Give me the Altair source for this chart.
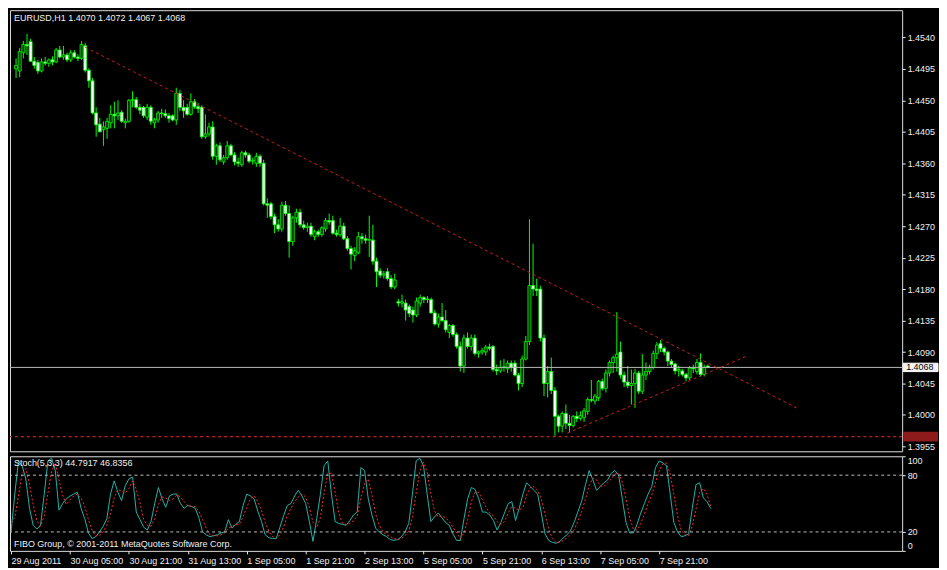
import altair as alt
import pandas as pd

# ---------------- data (EURUSD H1 candles, bar index 0 = 29 Aug 13:00) ----------------
opens = [1.4495,1.4492,1.4518,1.4530,1.4534,1.4506,1.4504,1.4492,1.4505,1.4503,
         1.4508,1.4505,1.4522,1.4512,1.4515,1.4508,1.4518,1.4512,1.4510,1.4528,
         1.4493,1.4478,1.4432,1.4416,1.4408,1.4410,1.4418,1.4430,1.4428,1.4433,
         1.4418,1.4420,1.4450,1.4451,1.4440,1.4440,1.4426,1.4440,1.4418,1.4422,
         1.4432,1.4431,1.4428,1.4428,1.4422,1.4460,1.4440,1.4440,1.4430,1.4448,
         1.4441,1.4440,1.4398,1.4402,1.4412,1.4370,1.4385,1.4362,1.4368,1.4385,
         1.4372,1.4362,1.4358,1.4375,1.4372,1.4363,1.4360,1.4370,1.4360,1.4302,
         1.4302,1.4284,1.4272,1.4266,1.4300,1.4288,1.4248,1.4282,1.4290,1.4272,
         1.4268,1.4270,1.4255,1.4262,1.4258,1.4266,1.4278,1.4278,1.4260,1.4258,
         1.4270,1.4252,1.4238,1.4228,1.4232,1.4255,1.4252,1.4250,1.4250,1.4220,
         1.4206,1.4200,1.4205,1.4195,1.4183,1.4162,1.4160,1.4160,1.4155,1.4150,
         1.4143,1.4160,1.4168,1.4165,1.4165,1.4146,1.4130,1.4140,1.4135,1.4118,
         1.4128,1.4115,1.4098,1.4070,1.4110,1.4098,1.4110,1.4088,1.4090,1.4090,
         1.4097,1.4098,1.4065,1.4063,1.4068,1.4066,1.4074,1.4074,1.4057,1.4045,
         1.4080,1.4105,1.4185,1.4180,1.4180,1.4110,1.4045,1.4062,1.4035,1.3998,
         1.3984,1.4002,1.3988,1.3985,1.3998,1.3995,1.3996,1.4005,1.4022,1.4020,
         1.4025,1.4048,1.4038,1.4060,1.4075,1.4082,1.4090,1.4057,1.4047,1.4042,
         1.4045,1.4060,1.4034,1.4057,1.4062,1.4068,1.4088,1.4102,1.4095,1.4090,
         1.4077,1.4073,1.4063,1.4063,1.4058,1.4053,1.4067,1.4062,1.4075,1.4058,
         1.4070]
highs = [1.4510,1.4525,1.4535,1.4545,1.4538,1.4512,1.4508,1.4510,1.4512,1.4510,
         1.4513,1.4525,1.4528,1.4528,1.4518,1.4522,1.4522,1.4516,1.4535,1.4532,
         1.4496,1.4482,1.4440,1.4425,1.4420,1.4425,1.4443,1.4448,1.4450,1.4436,
         1.4424,1.4452,1.4463,1.4455,1.4445,1.4442,1.4445,1.4443,1.4425,1.4435,
         1.4438,1.4437,1.4432,1.4430,1.4468,1.4465,1.4450,1.4445,1.4460,1.4452,
         1.4446,1.4443,1.4430,1.4418,1.4420,1.4388,1.4390,1.4372,1.4392,1.4388,
         1.4376,1.4368,1.4378,1.4378,1.4375,1.4368,1.4375,1.4373,1.4365,1.4310,
         1.4305,1.4288,1.4280,1.4305,1.4306,1.4300,1.4285,1.4295,1.4295,1.4278,
         1.4275,1.4275,1.4265,1.4265,1.4270,1.4282,1.4288,1.4285,1.4265,1.4282,
         1.4275,1.4256,1.4242,1.4240,1.4262,1.4260,1.4258,1.4285,1.4272,1.4225,
         1.4210,1.4206,1.4210,1.4200,1.4202,1.4166,1.4172,1.4165,1.4158,1.4155,
         1.4168,1.4172,1.4170,1.4170,1.4168,1.4150,1.4145,1.4160,1.4150,1.4130,
         1.4130,1.4118,1.4105,1.4115,1.4118,1.4115,1.4115,1.4092,1.4096,1.4100,
         1.4102,1.4100,1.4072,1.4078,1.4080,1.4078,1.4078,1.4078,1.4060,1.4085,
         1.4113,1.4280,1.4245,1.4195,1.4185,1.4115,1.4070,1.4082,1.4040,1.4000,
         1.4005,1.4015,1.4000,1.4000,1.4005,1.4005,1.4010,1.4025,1.4050,1.4030,
         1.4050,1.4052,1.4065,1.4078,1.4085,1.4147,1.4105,1.4062,1.4070,1.4065,
         1.4066,1.4063,1.4087,1.4075,1.4072,1.4092,1.4104,1.4107,1.4098,1.4092,
         1.4080,1.4075,1.4070,1.4066,1.4060,1.4070,1.4072,1.4080,1.4088,1.4072,
         1.4072]
lows = [1.4482,1.4483,1.4510,1.4515,1.4505,1.4495,1.4488,1.4490,1.4500,1.4498,
        1.4500,1.4503,1.4510,1.4508,1.4505,1.4505,1.4510,1.4506,1.4508,1.4490,
        1.4468,1.4430,1.4398,1.4405,1.4385,1.4395,1.4410,1.4410,1.4422,1.4418,
        1.4410,1.4418,1.4440,1.4438,1.4430,1.4425,1.4422,1.4415,1.4410,1.4418,
        1.4425,1.4425,1.4418,1.4420,1.4415,1.4435,1.4425,1.4428,1.4428,1.4438,
        1.4432,1.4395,1.4395,1.4398,1.4365,1.4358,1.4362,1.4358,1.4365,1.4370,
        1.4357,1.4355,1.4355,1.4368,1.4360,1.4358,1.4355,1.4355,1.4300,1.4282,
        1.4280,1.4260,1.4262,1.4262,1.4285,1.4225,1.4242,1.4275,1.4268,1.4265,
        1.4262,1.4255,1.4250,1.4255,1.4255,1.4262,1.4272,1.4258,1.4255,1.4255,
        1.4250,1.4235,1.4208,1.4220,1.4230,1.4245,1.4245,1.4226,1.4215,1.4183,
        1.4196,1.4195,1.4192,1.4180,1.4180,1.4155,1.4154,1.4135,1.4140,1.4132,
        1.4140,1.4155,1.4160,1.4160,1.4145,1.4128,1.4125,1.4133,1.4118,1.4110,
        1.4112,1.4095,1.4062,1.4060,1.4095,1.4092,1.4085,1.4082,1.4086,1.4085,
        1.4092,1.4062,1.4057,1.4060,1.4062,1.4060,1.4062,1.4055,1.4035,1.4040,
        1.4078,1.4100,1.4170,1.4170,1.4105,1.4027,1.4025,1.4030,1.3970,1.3975,
        1.3975,1.3980,1.3975,1.3982,1.3990,1.3992,1.3990,1.4000,1.4018,1.4015,
        1.4020,1.4035,1.4032,1.4055,1.4060,1.4062,1.4052,1.4040,1.4038,1.4015,
        1.4010,1.4030,1.4030,1.4050,1.4058,1.4065,1.4080,1.4090,1.4085,1.4070,
        1.4068,1.4058,1.4055,1.4055,1.4048,1.4050,1.4060,1.4058,1.4055,1.4055,
        1.4067]
closes = [1.4500,1.4520,1.4530,1.4528,1.4506,1.4500,1.4492,1.4505,1.4503,1.4508,
          1.4505,1.4522,1.4512,1.4515,1.4508,1.4518,1.4512,1.4510,1.4530,1.4493,
          1.4478,1.4432,1.4415,1.4405,1.4412,1.4420,1.4430,1.4428,1.4432,1.4420,
          1.4420,1.4450,1.4451,1.4440,1.4436,1.4428,1.4440,1.4420,1.4422,1.4432,
          1.4431,1.4428,1.4424,1.4422,1.4460,1.4440,1.4435,1.4430,1.4448,1.4441,
          1.4438,1.4398,1.4402,1.4412,1.4370,1.4385,1.4365,1.4368,1.4385,1.4372,
          1.4362,1.4360,1.4375,1.4372,1.4363,1.4364,1.4370,1.4360,1.4302,1.4300,
          1.4284,1.4272,1.4266,1.4300,1.4288,1.4248,1.4282,1.4290,1.4272,1.4268,
          1.4270,1.4258,1.4262,1.4258,1.4268,1.4278,1.4276,1.4260,1.4258,1.4270,
          1.4252,1.4238,1.4230,1.4235,1.4255,1.4252,1.4250,1.4251,1.4220,1.4205,
          1.4200,1.4202,1.4195,1.4183,1.4193,1.4160,1.4162,1.4150,1.4145,1.4143,
          1.4163,1.4168,1.4165,1.4166,1.4146,1.4130,1.4140,1.4135,1.4122,1.4128,
          1.4115,1.4098,1.4070,1.4110,1.4098,1.4110,1.4088,1.4090,1.4092,1.4097,
          1.4095,1.4065,1.4063,1.4068,1.4069,1.4074,1.4068,1.4057,1.4045,1.4080,
          1.4105,1.4185,1.4180,1.4178,1.4110,1.4045,1.4062,1.4035,1.3998,1.3984,
          1.4002,1.3988,1.3985,1.3998,1.3995,1.3999,1.4006,1.4022,1.4021,1.4027,
          1.4048,1.4038,1.4060,1.4075,1.4082,1.4087,1.4057,1.4047,1.4042,1.4045,
          1.4060,1.4034,1.4057,1.4062,1.4068,1.4088,1.4100,1.4095,1.4090,1.4077,
          1.4072,1.4063,1.4065,1.4058,1.4053,1.4067,1.4066,1.4075,1.4058,1.4068,
          1.4068]

# Stochastic(5,3,3): main (%K) and signal (%D)
stoch_main = [20,60,95,90,76,45,27,23,27,60,95,98,85,43,50,55,58,60,62,45,
              34,19,13,15,20,26,34,60,74,62,53,69,76,78,41,33,25,22,31,50,
              67,55,46,58,60,60,50,45,48,47,45,35,20,17,15,16,17,19,20,33,
              24,28,31,48,60,58,55,42,31,17,14,13,13,25,37,48,50,58,64,58,
              50,31,10,34,60,90,95,60,31,29,28,27,32,38,41,88,85,55,38,24,
              20,17,15,12,11,12,15,20,29,60,95,98,90,60,31,36,40,35,30,27,
              18,11,11,34,55,67,65,55,41,41,38,32,22,30,40,50,52,32,45,60,
              72,68,64,60,40,18,11,9,8,10,14,17,22,31,42,53,70,85,75,64,
              68,72,75,82,85,80,55,30,19,19,28,40,50,60,68,88,95,93,90,60,
              30,20,15,16,18,45,70,72,56,52,44.79]
stoch_signal = [30,35,58,82,87,70,49,32,26,37,61,84,93,75,59,49,54,58,60,56,
                47,33,22,16,16,20,27,40,56,65,63,61,66,74,65,51,33,27,26,34,
                49,57,56,53,55,59,57,52,48,47,47,42,33,24,17,16,16,17,19,24,
                26,28,28,36,46,55,58,52,43,30,21,15,13,17,25,37,45,52,57,60,
                57,46,30,25,35,61,82,82,62,40,29,28,29,32,37,56,71,76,59,39,
                27,20,17,15,13,12,13,16,21,36,61,84,94,83,60,42,36,37,35,31,
                25,19,13,19,33,52,62,62,54,46,40,37,31,28,31,40,47,45,43,46,
                59,67,68,64,55,39,23,13,9,9,11,14,18,23,32,42,55,69,77,75,
                69,68,72,76,81,82,73,55,35,23,22,29,39,50,59,72,84,92,93,81,
                60,37,22,17,16,26,44,62,66,60,46.84]

price_ticks = [1.3955, 1.4000, 1.4045, 1.4090, 1.4135, 1.4180, 1.4225,
               1.4270, 1.4315, 1.4360, 1.4405, 1.4450, 1.4495, 1.4540]
stoch_ticks = [0, 20, 80, 100]
time_tick_bars = [0, 16, 32, 48, 64, 80, 96, 112, 128, 144, 160, 176]
time_tick_labels = ["29 Aug 2011", "30 Aug 05:00", "30 Aug 21:00", "31 Aug 13:00",
                    "1 Sep 05:00", "1 Sep 21:00", "2 Sep 13:00", "5 Sep 05:00",
                    "5 Sep 21:00", "6 Sep 13:00", "7 Sep 05:00", "7 Sep 21:00"]

# trend lines (bar index, price)
upper_line_bars = [19, 214.4]
upper_line_prices = [1.4526, 1.4010]
lower_line_bars = [151.4, 201.1]
lower_line_prices = [1.3974, 1.4085]
support_level = 1.3969
bid_level = 1.4068

# ---------------- layout ----------------
W, H1, H2 = 896, 443, 95
FONT = "Liberation Sans"
FG = "#f0f0f0"
XDOM = [-0.3, 242]
PDOM = [1.3948, 1.4579]
GREEN = "#00ff00"
TREND = "#c81e1e"

df = pd.DataFrame({"i": list(range(len(opens))), "open": opens, "high": highs,
                   "low": lows, "close": closes})
xsc = alt.Scale(domain=XDOM, nice=False, zero=False)
psc = alt.Scale(domain=PDOM, nice=False, zero=False)
ssc = alt.Scale(domain=[0, 100], nice=False, zero=False)

price_axis = alt.Axis(orient="right", values=price_ticks, format=".4f", title=None,
                      grid=False, domain=False, tickColor=FG, tickSize=3,
                      labelColor=FG, labelFontSize=9, labelPadding=2, labelFont=FONT,
                      labelOverlap=False, labelBound=False)
stoch_axis = alt.Axis(orient="right", values=stoch_ticks, format="d", title=None,
                      grid=False, domain=False, tickColor=FG, tickSize=3,
                      labelColor=FG, labelFontSize=9, labelFont=FONT, labelPadding=2,
                      labelOverlap=False, labelBound=False, labelFlush=True)
label_arr = "[" + ",".join("'" + s + "'" for s in time_tick_labels) + "]"
time_axis = alt.Axis(orient="bottom", values=time_tick_bars, title=None, grid=False,
                     labelExpr=label_arr + "[round(datum.value / 16)]",
                     labelAlign="left", labelBaseline="top", labelPadding=3,
                     labelColor=FG, labelFontSize=9, labelFont=FONT, labelFlush=False,
                     labelOverlap=False, tickColor=FG, tickSize=3, domain=False)


def py(field):
    return alt.Y(field, type="quantitative", scale=psc, axis=price_axis)


def px(field="i"):
    return alt.X(field, type="quantitative", scale=xsc, axis=None)


wicks = alt.Chart(df).mark_rule(color=GREEN, strokeWidth=1, clip=True).encode(
    x=px(), y=py("low"), y2="high:Q")
bodies = alt.Chart(df).transform_calculate(
    dir="datum.close >= datum.open ? 'up' : 'down'"
).mark_bar(size=3, stroke=GREEN, strokeWidth=0.8, clip=True).encode(
    x=px(), y=py("open"), y2="close:Q",
    fill=alt.Fill("dir:N", scale=alt.Scale(domain=["up", "down"],
                                           range=["#063806", "#ffffff"]), legend=None))

upper = alt.Chart(pd.DataFrame({"i": upper_line_bars, "p": upper_line_prices})).mark_line(
    color=TREND, strokeDash=[3, 3], strokeWidth=1, clip=True).encode(x=px(), y=py("p"))
lower = alt.Chart(pd.DataFrame({"i": lower_line_bars, "p": lower_line_prices})).mark_line(
    color=TREND, strokeDash=[3, 3], strokeWidth=1, clip=True).encode(x=px(), y=py("p"))
support = alt.Chart(pd.DataFrame({"p": [support_level]})).mark_rule(
    color=TREND, strokeDash=[3, 3], strokeWidth=1.2).encode(y=py("p"))
bid = alt.Chart(pd.DataFrame({"p": [bid_level]})).mark_rule(
    color="#b8b8b8", strokeWidth=1).encode(y=py("p"))

support_box = alt.Chart(pd.DataFrame({"lo": [support_level - 0.0007],
                                      "hi": [support_level + 0.0007]})).mark_rect(
    clip=False, fill="#8e1b1b").encode(
    x=alt.value(W + 1), x2=alt.value(W + 36), y=py("lo"), y2="hi:Q")
bid_box = alt.Chart(pd.DataFrame({"lo": [bid_level - 0.0006],
                                  "hi": [bid_level + 0.0006]})).mark_rect(
    clip=False, fill="#f4f4f4", stroke="#ffffff", strokeWidth=1).encode(
    x=alt.value(W + 1), x2=alt.value(W + 36), y=py("lo"), y2="hi:Q")
bid_text = alt.Chart(pd.DataFrame({"p": [bid_level], "t": ["1.4068"]})).mark_text(
    align="left", baseline="middle", color="#000000", fontSize=9, font=FONT, clip=False).encode(
    x=alt.value(W + 4), y=py("p"), text="t:N")

title = alt.Chart(pd.DataFrame({"t": ["EURUSD,H1  1.4070 1.4072 1.4067 1.4068"]})).mark_text(
    align="left", baseline="middle", color=FG, fontSize=9, font=FONT).encode(
    x=alt.value(4), y=alt.value(8), text="t:N")

main = alt.layer(wicks, bodies, support, bid, upper, lower, support_box, bid_box,
                 bid_text, title).properties(width=W, height=H1)

# ---------------- stochastic panel ----------------
sdf = pd.DataFrame({"i": list(range(len(stoch_main))), "k": stoch_main, "d": stoch_signal})


def sy(field):
    return alt.Y(field, type="quantitative", scale=ssc, axis=stoch_axis)


def sx(field="i"):
    return alt.X(field, type="quantitative", scale=xsc, axis=time_axis)


levels = alt.Chart(pd.DataFrame({"v": [20, 80]})).mark_rule(
    color="#bdbdbd", strokeDash=[3, 3], strokeWidth=1).encode(y=sy("v"))
kline = alt.Chart(sdf).mark_line(color="#20b2aa", strokeWidth=1, clip=True).encode(
    x=sx(), y=sy("k"))
dline = alt.Chart(sdf).mark_line(color="#ff2a2a", strokeDash=[2, 2], strokeWidth=1,
                                 clip=True).encode(x=sx(), y=sy("d"))
stoch_label = alt.Chart(pd.DataFrame({"t": ["Stoch(5,3,3) 44.7917 46.8356"]})).mark_text(
    align="left", baseline="middle", color=FG, fontSize=9, font=FONT).encode(
    x=alt.value(4), y=alt.value(7), text="t:N")
copyright_label = alt.Chart(pd.DataFrame({"t": ["FIBO Group, \u00a9 2001-2011 MetaQuotes Software Corp."]})).mark_text(
    align="left", baseline="middle", color=FG, fontSize=9, font=FONT).encode(
    x=alt.value(4), y=alt.value(H2 - 7), text="t:N")

stoch = alt.layer(kline, dline, levels, stoch_label, copyright_label).properties(
    width=W, height=H2)

chart = alt.vconcat(main, stoch, spacing=3).properties(
    padding=0, background="#000000"
).configure_view(stroke="#d8d8d8", strokeWidth=1).configure_axis(
    labelOverlap=False, labelBound=False
).configure(font=FONT)

chart.save("out.html", embed_options={"renderer": "svg", "actions": False})
